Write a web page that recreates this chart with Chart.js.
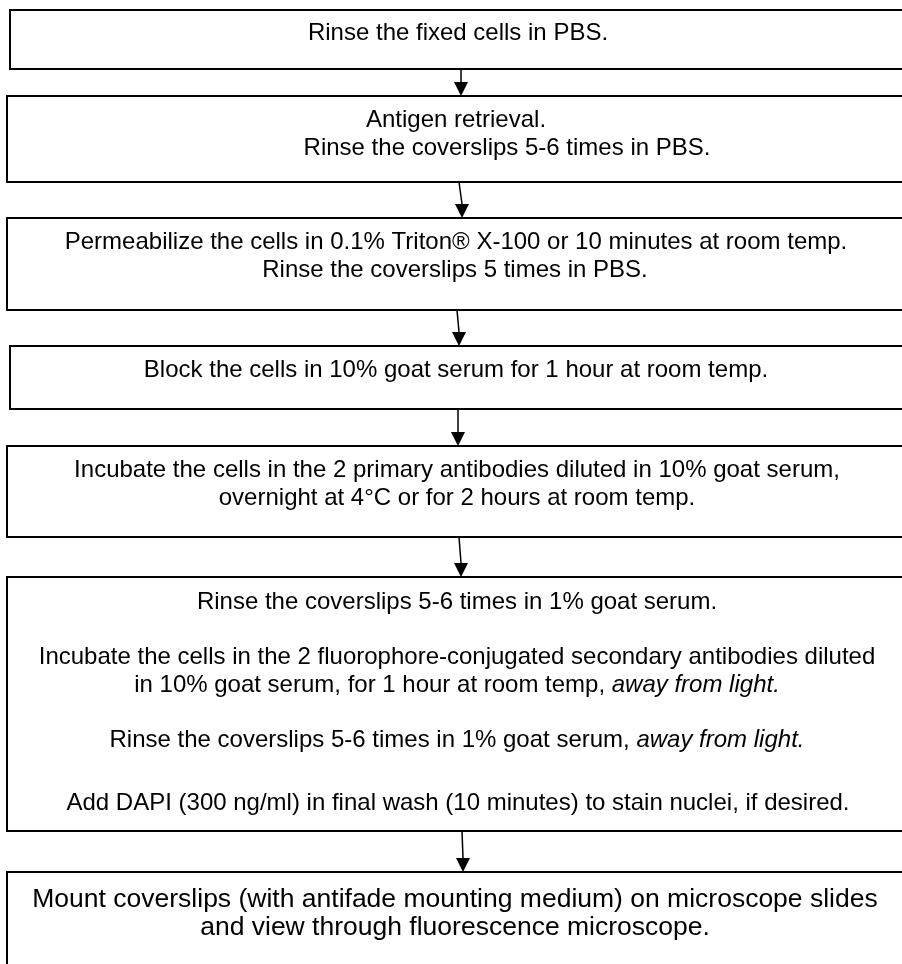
<!DOCTYPE html>
<html>
<head>
<meta charset="utf-8">
<script src="https://cdn.jsdelivr.net/npm/chart.js@4.4.0/dist/chart.umd.min.js"></script>
<style>
  html, body { margin: 0; padding: 0; background: #fff; }
  #wrap { width: 902px; height: 964px; }
</style>
</head>
<body>
<div id="wrap"><canvas id="flowChart"></canvas></div>
<script>
// Step texts, one array per box. Text between * is italic.
const stepLines = [
    ['Rinse the fixed cells in PBS.'],
    ['Antigen retrieval.', 'Rinse the coverslips 5-6 times in PBS.'],
    ['Permeabilize the cells in 0.1% Triton\u00AE X-100 or 10 minutes at room temp.', 'Rinse the coverslips 5 times in PBS.'],
    ['Block the cells in 10% goat serum for 1 hour at room temp.'],
    ['Incubate the cells in the 2 primary antibodies diluted in 10% goat serum,', 'overnight at 4\u00B0C or for 2 hours at room temp.'],
    ['Rinse the coverslips 5-6 times in 1% goat serum.',
     'Incubate the cells in the 2 fluorophore-conjugated secondary antibodies diluted',
     'in 10% goat serum, for 1 hour at room temp, *away from light.*',
     'Rinse the coverslips 5-6 times in 1% goat serum, *away from light.*',
     'Add DAPI (300 ng/ml) in final wash (10 minutes) to stain nuclei, if desired.'],
    ['Mount coverslips (with antifade mounting medium) on microscope slides', 'and view through fluorescence microscope.']
];

// Box extents in axis units (axis = page units, y grows downward)
const boxTop = [10, 96, 218, 346, 446, 577, 872];
const boxBottom = [69, 182, 310, 409, 537, 831, 1000];
const boxLeft = [10, 7, 7, 10, 7, 7, 7];
const boxRight = [930, 930, 930, 930, 930, 930, 930];

// Line centres for each box
const lineY = [[33], [120, 148], [242, 270], [370], [470, 498], [602, 657, 685, 740, 803], [900, 928]];
const lineX = [[458], [456, 507], [456, 455], [456], [457, 457], [457, 457, 457, 457, 458], [455, 455]];

// Arrow x at start (box bottom) and end (next box top)
const arrowStartX = [461, 459, 457, 458, 459, 462];
const arrowEndX = [461, 462, 459, 458, 461, 463];

const bigBox = 6;

const flowPlugin = {
    id: 'flowPlugin',
    afterDraw(chart) {
        const ctx = chart.ctx;
        const xs = chart.scales.x;
        const ys = chart.scales.y;
        const px = v => xs.getPixelForValue(v);
        const py = v => ys.getPixelForValue(v);

        ctx.save();
        ctx.fillStyle = '#fff';
        ctx.fillRect(0, 0, chart.width, chart.height);

        // boxes
        ctx.strokeStyle = '#000';
        ctx.lineWidth = 2;
        for (let i = 0; i < stepLines.length; i++) {
            const l = px(boxLeft[i]), r = px(boxRight[i]);
            const t = py(boxTop[i]), b = py(boxBottom[i]);
            ctx.strokeRect(l, t, r - l, b - t);
        }

        // arrows
        ctx.lineWidth = 1.5;
        ctx.fillStyle = '#000';
        for (let i = 0; i < arrowStartX.length; i++) {
            const x1 = px(arrowStartX[i]), y1 = py(boxBottom[i]);
            const x2 = px(arrowEndX[i]), y2 = py(boxTop[i + 1]);
            const headH = 14, headW = 7;
            ctx.beginPath();
            ctx.moveTo(x1, y1);
            ctx.lineTo(x2, y2 - headH);
            ctx.stroke();
            ctx.beginPath();
            ctx.moveTo(x2 - headW, y2 - headH);
            ctx.lineTo(x2 + headW, y2 - headH);
            ctx.lineTo(x2, y2);
            ctx.closePath();
            ctx.fill();
        }

        // texts
        ctx.fillStyle = '#000';
        ctx.textBaseline = 'middle';
        ctx.textAlign = 'left';
        stepLines.forEach((lines, i) => {
            const size = i === bigBox ? 26.5 : 24;
            const normal = size + 'px "Liberation Sans", Arial, sans-serif';
            const italic = 'italic ' + normal;
            lines.forEach((line, j) => {
                const parts = line.split('*').map((s, k) => ({ text: s, italic: k % 2 === 1 })).filter(p => p.text);
                let total = 0;
                parts.forEach(p => {
                    ctx.font = p.italic ? italic : normal;
                    p.w = ctx.measureText(p.text).width;
                    total += p.w;
                });
                let x = px(lineX[i][j]) - total / 2;
                const y = py(lineY[i][j]);
                parts.forEach(p => {
                    ctx.font = p.italic ? italic : normal;
                    ctx.fillText(p.text, x, y);
                    x += p.w;
                });
            });
        });
        ctx.restore();
    }
};

new Chart(document.getElementById('flowChart'), {
    type: 'scatter',
    data: { datasets: [{ data: [], pointRadius: 0 }] },
    options: {
        responsive: true,
        maintainAspectRatio: false,
        animation: false,
        layout: { padding: 0 },
        plugins: { legend: { display: false }, tooltip: { enabled: false } },
        scales: {
            x: { type: 'linear', min: 0, max: 902, display: false },
            y: { type: 'linear', min: 0, max: 964, reverse: true, display: false }
        }
    },
    plugins: [flowPlugin]
});
</script>
</body>
</html>
